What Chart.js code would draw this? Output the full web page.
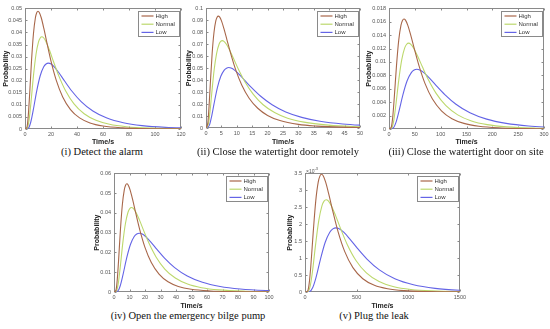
<!DOCTYPE html>
<html>
<head>
<meta charset="utf-8">
<script src="https://cdn.jsdelivr.net/npm/chart.js@4.4.0/dist/chart.umd.min.js"></script>
<style>
  body { margin:0; background:#fff; width:550px; height:329px; position:relative; overflow:hidden; }
  canvas { position:absolute; }
  .cap { position:absolute; width:240px; text-align:center; font:10.5px 'Liberation Serif','Times New Roman',serif; color:#111; line-height:12px; white-space:nowrap; }
</style>
</head>
<body>
<script>
const levels = ['High', 'Normal', 'Low'];
const levelColors = ['#a8674a', '#bcd86c', '#6464e6'];

// (i) Detect the alarm
const alarmXTicks = [0, 20, 40, 60, 80, 100, 120];
const alarmYTicks = [0, 0.005, 0.01, 0.015, 0.02, 0.025, 0.03, 0.035, 0.04, 0.045, 0.05];
const alarmHighX = [0,1.5,2.5,3.5,5,6.5,8,9,10,11,12.5,14.5,17,20,24,29,35,42,50,60,75,90,110,130];
const alarmHighY = [0,0.00079,0.00537,0.01377,0.02811,0.03944,0.04609,0.04818,0.0488,0.04829,0.04609,0.04165,0.03533,0.02811,0.02025,0.01328,0.00806,0.00459,0.00249,0.00122,0.00046,0.00019,0.00007,0.00002];
const alarmNormalX = [0,1.95,3.25,4.55,6.5,8.45,10.4,11.7,13,14.3,16.25,18.85,22.1,26,31.2,37.7,45.5,54.6,65,78,97.5,117,143];
const alarmNormalY = [0,0.00062,0.00421,0.01078,0.02201,0.03087,0.03608,0.03771,0.0382,0.0378,0.03608,0.0326,0.02765,0.02201,0.01585,0.0104,0.00631,0.00359,0.00195,0.00096,0.00036,0.00015,0.00005];
const alarmLowX = [0,2.7,4.5,6.3,9,11.7,14.4,16.2,18,19.8,22.5,26.1,30.6,36,43.2,52.2,63,75.6,90,108,135];
const alarmLowY = [0,0.00044,0.00301,0.0077,0.01573,0.02206,0.02578,0.02695,0.0273,0.02702,0.02578,0.0233,0.01976,0.01573,0.01133,0.00743,0.00451,0.00257,0.0014,0.00069,0.00026];

// (ii) Close the watertight door remotely
const remoteXTicks = [0, 5, 10, 15, 20, 25, 30, 35, 40, 45, 50];
const remoteYTicks = [0, 0.01, 0.02, 0.03, 0.04, 0.05, 0.06, 0.07, 0.08, 0.09, 0.1];
const remoteHighX = [0,0.6,1,1.4,2,2.6,3.2,3.6,4,4.4,5,5.8,6.8,8,9.6,11.6,14,16.8,20,24,30,36,44,52];
const remoteHighY = [0,0.0045,0.0185,0.0369,0.0624,0.08,0.0897,0.0926,0.0935,0.0928,0.0897,0.0832,0.0737,0.0624,0.049,0.0359,0.0249,0.0165,0.0105,0.0062,0.003,0.0016,0.0007,0.0004];
const remoteNormalX = [0,0.8,1.33,1.86,2.65,3.45,4.24,4.77,5.3,5.83,6.63,7.69,9.01,10.6,12.72,15.37,18.55,22.26,26.5,31.8,39.75,47.7,58.3];
const remoteNormalY = [0,0.0035,0.0144,0.0288,0.0487,0.0624,0.07,0.0723,0.073,0.0724,0.07,0.065,0.0576,0.0487,0.0382,0.0281,0.0194,0.0129,0.0082,0.0049,0.0024,0.0012,0.0006];
const remoteLowX = [0,1.11,1.85,2.59,3.7,4.81,5.92,6.66,7.4,8.14,9.25,10.73,12.58,14.8,17.76,21.46,25.9,31.08,37,44.4,55.5];
const remoteLowY = [0,0.0024,0.01,0.0199,0.0337,0.0432,0.0484,0.05,0.0505,0.0501,0.0484,0.0449,0.0398,0.0337,0.0265,0.0194,0.0134,0.0089,0.0057,0.0034,0.0016];

// (iii) Close the watertight door on site
const siteXTicks = [0, 50, 100, 150, 200, 250, 300];
const siteYTicks = [0, 0.002, 0.004, 0.006, 0.008, 0.01, 0.012, 0.014, 0.016, 0.018];
const siteHighX = [0,4.35,7.25,10.15,14.5,18.85,23.2,26.1,29,31.9,36.25,42.05,49.3,58,69.6,84.1,101.5,121.8,145,174,217.5,261,319];
const siteHighY = [0,0.00026,0.00181,0.00463,0.00945,0.01325,0.01549,0.01619,0.0164,0.01623,0.01549,0.014,0.01187,0.00945,0.0068,0.00446,0.00271,0.00154,0.00084,0.00041,0.00016,0.00006,0.00002];
const siteNormalX = [0,5.7,9.5,13.3,19,24.7,30.4,34.2,38,41.8,47.5,55.1,64.6,76,91.2,110.2,133,159.6,190,228,285,342];
const siteNormalY = [0,0.00021,0.00141,0.00361,0.00737,0.01034,0.01209,0.01264,0.0128,0.01267,0.01209,0.01092,0.00927,0.00737,0.00531,0.00348,0.00211,0.0012,0.00065,0.00032,0.00012,0.00005];
const siteLowX = [0,8.1,13.5,18.9,27,35.1,43.2,48.6,54,59.4,67.5,78.3,91.8,108,129.6,156.6,189,226.8,270,324];
const siteLowY = [0,0.00014,0.00098,0.00251,0.00513,0.00719,0.00841,0.00879,0.0089,0.00881,0.00841,0.0076,0.00644,0.00513,0.00369,0.00242,0.00147,0.00084,0.00045,0.00022];

// (iv) Open the emergency bilge pump
const pumpXTicks = [0, 10, 20, 30, 40, 50, 60, 70, 80, 90, 100];
const pumpYTicks = [0, 0.01, 0.02, 0.03, 0.04, 0.05, 0.06];
const pumpHighX = [0,1.25,2.08,2.91,4.15,5.4,6.64,7.47,8.3,9.13,10.38,12.04,14.11,16.6,19.92,24.07,29.05,34.86,41.5,49.8,62.25,74.7,91.3,110];
const pumpHighY = [0,0.00088,0.00602,0.01544,0.03151,0.0442,0.05166,0.054,0.0547,0.05413,0.05166,0.04668,0.0396,0.03151,0.02269,0.01489,0.00903,0.00514,0.0028,0.00137,0.00052,0.00021,0.00007,0.00002];
const pumpNormalX = [0,1.7,2.83,3.96,5.65,7.35,9.04,10.17,11.3,12.43,14.13,16.39,19.21,22.6,27.12,32.77,39.55,47.46,56.5,67.8,84.75,101.7];
const pumpNormalY = [0,0.00069,0.0047,0.01205,0.0246,0.03451,0.04033,0.04216,0.0427,0.04226,0.04033,0.03644,0.03091,0.0246,0.01772,0.01162,0.00705,0.00401,0.00218,0.00107,0.0004,0.00017];
const pumpLowX = [0,2.45,4.08,5.71,8.15,10.6,13.04,14.67,16.3,17.93,20.38,23.64,27.71,32.6,39.12,47.27,57.05,68.46,81.5,97.8,122.25];
const pumpLowY = [0,0.00048,0.00327,0.00838,0.01711,0.024,0.02805,0.02932,0.0297,0.02939,0.02805,0.02535,0.0215,0.01711,0.01232,0.00808,0.0049,0.00279,0.00152,0.00075,0.00028];

// (v) Plug the leak, probability in units of 10^-3
const leakXTicks = [0, 500, 1000, 1500];
const leakYTicks = [0, 0.5, 1, 1.5, 2, 2.5, 3, 3.5];
const leakHighX = [0,24,40,56,80,104,128,144,160,176,200,232,272,320,384,464,560,672,800,960,1200,1440,1760];
const leakHighY = [0,0.023,0.24,0.751,1.78,2.681,3.238,3.417,3.47,3.427,3.238,2.864,2.347,1.78,1.197,0.719,0.392,0.198,0.095,0.04,0.012,0.004,0.001];
const leakNormalX = [0,30.75,51.25,71.75,102.5,133.25,164,184.5,205,225.5,256.25,297.25,348.5,410,492,594.5,717.5,861,1025,1230,1537.5,1845];
const leakNormalY = [0,0.018,0.189,0.589,1.396,2.102,2.538,2.678,2.72,2.686,2.538,2.245,1.84,1.396,0.938,0.563,0.308,0.156,0.075,0.032,0.01,0.003];
const leakLowX = [0,45,75,105,150,195,240,270,300,330,375,435,510,600,720,870,1050,1260,1500,1800];
const leakLowY = [0,0.0127,0.131,0.409,0.97,1.46,1.764,1.861,1.89,1.866,1.764,1.56,1.278,0.97,0.652,0.391,0.214,0.108,0.052,0.022];

const sans = "'Liberation Sans', Arial, sans-serif";
const axisColor = '#8a8a8a';

const panels = [
  { caption: '(i) Detect the alarm', box: [25, 7, 181, 129], yw: 23, xh: 17, capX: 102, capY: 152,
    xTicks: alarmXTicks, yTicks: alarmYTicks, series: [[alarmHighX, alarmHighY], [alarmNormalX, alarmNormalY], [alarmLowX, alarmLowY]] },
  { caption: '(ii) Close the watertight door remotely', box: [206, 7, 360, 128], yw: 21, xh: 18, capX: 278, capY: 152,
    xTicks: remoteXTicks, yTicks: remoteYTicks, series: [[remoteHighX, remoteHighY], [remoteNormalX, remoteNormalY], [remoteLowX, remoteLowY]] },
  { caption: '(iii) Close the watertight door on site', box: [389, 7, 544, 129], yw: 24, xh: 17, capX: 466, capY: 152,
    xTicks: siteXTicks, yTicks: siteYTicks, series: [[siteHighX, siteHighY], [siteNormalX, siteNormalY], [siteLowX, siteLowY]] },
  { caption: '(iv) Open the emergency bilge pump', box: [114, 172, 269, 292], yw: 21, xh: 18, capX: 188, capY: 316,
    xTicks: pumpXTicks, yTicks: pumpYTicks, series: [[pumpHighX, pumpHighY], [pumpNormalX, pumpNormalY], [pumpLowX, pumpLowY]] },
  { caption: '(v) Plug the leak', box: [305, 172, 460, 292], yw: 19, xh: 18, capX: 374, capY: 316, exponent: true,
    xTicks: leakXTicks, yTicks: leakYTicks, series: [[leakHighX, leakHighY], [leakNormalX, leakNormalY], [leakLowX, leakLowY]] }
];

const framePlugin = {
  id: 'frame',
  beforeDatasetsDraw(chart) {
    const { ctx, chartArea: a, scales: { x, y } } = chart;
    const l = Math.round(a.left) + 0.5, r = Math.round(a.right) - 0.5;
    const t = Math.round(a.top) + 0.5, b = Math.round(a.bottom) - 0.5;
    ctx.save();
    ctx.strokeStyle = axisColor;
    ctx.lineWidth = 1;
    ctx.strokeRect(l, t, r - l, b - t);
    ctx.beginPath();
    x.ticks.forEach(tk => {
      const px = Math.round(x.getPixelForValue(tk.value)) + 0.5;
      ctx.moveTo(px, b); ctx.lineTo(px, b - 2);
      ctx.moveTo(px, t); ctx.lineTo(px, t + 2);
    });
    y.ticks.forEach(tk => {
      const py = Math.round(y.getPixelForValue(tk.value)) + 0.5;
      ctx.moveTo(l, py); ctx.lineTo(l + 2, py);
      ctx.moveTo(r, py); ctx.lineTo(r - 2, py);
    });
    ctx.stroke();
    ctx.restore();
  }
};

const legendPlugin = {
  id: 'boxLegend',
  afterDraw(chart) {
    const { ctx, chartArea: a } = chart;
    const items = chart.data.datasets;
    ctx.save();
    ctx.font = '6px ' + sans;
    const tw = Math.max(...items.map(d => ctx.measureText(d.label).width));
    const w = Math.round(3 + 12 + 3 + tw + 4), h = 25;
    const x0 = Math.round(a.right - 2 - w) + 0.5, y0 = Math.round(a.top + 3) + 0.5;
    ctx.fillStyle = '#fff';
    ctx.fillRect(x0, y0, w, h);
    ctx.strokeStyle = axisColor;
    ctx.lineWidth = 1;
    ctx.strokeRect(x0, y0, w, h);
    items.forEach((d, i) => {
      const cy = y0 + 4.5 + i * 8.2;
      ctx.strokeStyle = d.borderColor;
      ctx.lineWidth = 1.2;
      ctx.beginPath(); ctx.moveTo(x0 + 3, cy); ctx.lineTo(x0 + 15, cy); ctx.stroke();
      ctx.fillStyle = '#333';
      ctx.textBaseline = 'middle';
      ctx.fillText(d.label, x0 + 17, cy);
    });
    ctx.restore();
  }
};

const exponentPlugin = {
  id: 'exponent',
  afterDraw(chart) {
    const { ctx, chartArea: a } = chart;
    ctx.save();
    ctx.fillStyle = '#555';
    ctx.textBaseline = 'alphabetic';
    ctx.font = '5px ' + sans;
    ctx.fillText('×10', a.left + 1, a.top - 0.5);
    const w = ctx.measureText('×10').width;
    ctx.font = '4px ' + sans;
    ctx.fillText('-3', a.left + 1 + w, a.top - 3);
    ctx.restore();
  }
};

const fmt = v => String(Number(v.toFixed(4)));

panels.forEach(p => {
  const [L, T, R, B] = p.box;
  const padTop = 5, padRight = 8;
  const left = L - p.yw, top = T - padTop;
  const cv = document.createElement('canvas');
  cv.width = R - left + padRight;
  cv.height = B - top + p.xh;
  cv.style.left = left + 'px';
  cv.style.top = top + 'px';
  document.body.appendChild(cv);

  const datasets = p.series.map((s, i) => ({
    label: levels[i],
    data: s[0].map((x, k) => ({ x: x, y: s[1][k] })),
    borderColor: levelColors[i],
    borderWidth: 1.1,
    pointRadius: 0,
    fill: false,
    cubicInterpolationMode: 'monotone'
  }));

  const plugins = [framePlugin, legendPlugin];
  if (p.exponent) plugins.push(exponentPlugin);

  new Chart(cv, {
    type: 'line',
    data: { datasets: datasets },
    options: {
      responsive: false,
      animation: false,
      layout: { padding: { top: padTop, right: padRight, left: 0, bottom: 0 } },
      plugins: { legend: { display: false }, tooltip: { enabled: false } },
      scales: {
        x: {
          type: 'linear',
          min: p.xTicks[0], max: p.xTicks[p.xTicks.length - 1],
          afterBuildTicks: s => { s.ticks = p.xTicks.map(v => ({ value: v })); },
          afterFit: s => { s.height = p.xh; },
          grid: { display: false, drawTicks: false },
          border: { display: false },
          ticks: { autoSkip: false, maxRotation: 0, padding: 2, color: '#555', font: { size: 5.5, family: sans }, callback: fmt },
          title: { display: true, text: 'Time/s', color: '#222', padding: 0, font: { size: 7, weight: 'bold', family: sans } }
        },
        y: {
          type: 'linear',
          min: p.yTicks[0], max: p.yTicks[p.yTicks.length - 1],
          afterBuildTicks: s => { s.ticks = p.yTicks.map(v => ({ value: v })); },
          afterFit: s => { s.width = p.yw; },
          grid: { display: false, drawTicks: false },
          border: { display: false },
          ticks: { autoSkip: false, padding: 3, color: '#555', font: { size: 5.5, family: sans }, callback: fmt },
          title: { display: true, text: 'Probability', color: '#222', padding: 0, font: { size: 7, weight: 'bold', family: sans } }
        }
      }
    },
    plugins: plugins
  });

  const cap = document.createElement('div');
  cap.className = 'cap';
  cap.textContent = p.caption;
  cap.style.left = (p.capX - 120) + 'px';
  cap.style.top = (p.capY - 6) + 'px';
  document.body.appendChild(cap);
});
</script>
</body>
</html>
